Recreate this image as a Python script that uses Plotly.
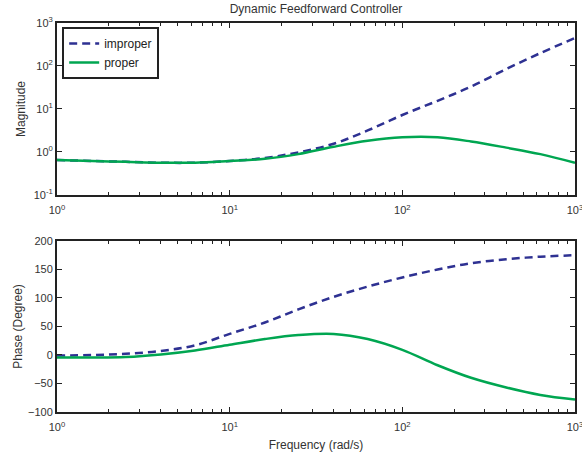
import plotly.graph_objects as go

freq = [1, 1.6, 2.5, 4, 6.3, 10, 16, 25, 40, 63, 100, 160, 250, 400, 630, 1000]
mag_improper = [0.646, 0.617, 0.589, 0.562, 0.562, 0.617, 0.724, 0.977, 1.55, 3.16, 7.24, 15.5, 33.1, 85.1, 199.5, 446.7]
mag_proper = [0.646, 0.617, 0.589, 0.562, 0.562, 0.617, 0.692, 0.891, 1.32, 1.82, 2.19, 2.19, 1.75, 1.26, 0.89, 0.56]
phase_improper = [-1, 0, 2, 7, 17, 37, 57, 80, 102, 120, 136, 150, 161, 168, 172.5, 175]
phase_proper = [-4.5, -4.5, -3.5, 1, 8, 18, 28, 35, 37, 28, 9, -18, -40, -57, -70, -78]

x_tickvals = [1, 10, 100, 1000]
x_ticktext = ["10<sup>0</sup>", "10<sup>1</sup>", "10<sup>2</sup>", "10<sup>3</sup>"]
ymag_tickvals = [0.1, 1, 10, 100, 1000]
ymag_ticktext = ["10<sup>-1</sup>", "10<sup>0</sup>", "10<sup>1</sup>", "10<sup>2</sup>", "10<sup>3</sup>"]
yph_tickvals = [-100, -50, 0, 50, 100, 150, 200]

BLUE = "#2e3192"
GREEN = "#00a651"
FONT = "Liberation Sans, Arial, sans-serif"

fig = go.Figure()
fig.add_trace(go.Scatter(x=freq, y=mag_improper, mode="lines", name="improper",
                         line=dict(color=BLUE, width=2.5, dash="8px,5px", shape="spline"),
                         xaxis="x", yaxis="y"))
fig.add_trace(go.Scatter(x=freq, y=mag_proper, mode="lines", name="proper",
                         line=dict(color=GREEN, width=2.5, shape="spline"),
                         xaxis="x", yaxis="y"))
fig.add_trace(go.Scatter(x=freq, y=phase_improper, mode="lines", showlegend=False,
                         line=dict(color=BLUE, width=2.5, dash="8px,5px", shape="spline"),
                         xaxis="x2", yaxis="y2"))
fig.add_trace(go.Scatter(x=freq, y=phase_proper, mode="lines", showlegend=False,
                         line=dict(color=GREEN, width=2.5, shape="spline"),
                         xaxis="x2", yaxis="y2"))

axis_common = dict(showline=True, linecolor="#222", linewidth=2, mirror="allticks",
                   ticks="inside", ticklen=5, tickcolor="#222", tickwidth=1,
                   showgrid=False, zeroline=False, automargin=False, ticklabeloverflow="allow",
                   tickfont=dict(family=FONT, size=11, color="#333"))
minor_log = dict(dtick="D1", ticks="inside", ticklen=3, tickcolor="#222", tickwidth=1, showgrid=False)
title_font = dict(family=FONT, size=12, color="#333")

fig.update_layout(
    width=582, height=459,
    paper_bgcolor="white", plot_bgcolor="white",
    margin=dict(l=57, r=7, t=23, b=47, autoexpand=False),
    font=dict(family=FONT, size=11, color="#333"),
    title=dict(text="Dynamic Feedforward Controller", x=(57 + 575) / 2 / 582, xanchor="center",
               y=1 - 9 / 459, yanchor="middle", font=title_font),
    xaxis=dict(type="log", range=[0, 3], domain=[0, 1], anchor="y", ticklabelstandoff=4,
               tickvals=x_tickvals, ticktext=x_ticktext, minor=minor_log, **axis_common),
    yaxis=dict(type="log", range=[-1, 3], domain=[0.558, 1], anchor="x",
               tickvals=ymag_tickvals, ticktext=ymag_ticktext,
               title=dict(text="Magnitude", standoff=6, font=title_font),
               **axis_common),
    xaxis2=dict(type="log", range=[0, 3], domain=[0, 1], anchor="y2", ticklabelstandoff=4,
                tickvals=x_tickvals, ticktext=x_ticktext, minor=minor_log,
                title=dict(text="Frequency (rad/s)", standoff=8, font=title_font),
                **axis_common),
    yaxis2=dict(range=[-100, 200], domain=[0, 0.4396], anchor="x2",
                tickvals=yph_tickvals,
                title=dict(text="Phase (Degree)", standoff=3, font=title_font),
                **axis_common),
    legend=dict(x=0.01, y=0.99, xanchor="left", yanchor="top",
                bordercolor="#222", borderwidth=2, bgcolor="white",
                font=dict(family=FONT, size=12, color="#222"), tracegroupgap=0, itemwidth=30),
)

fig.write_html("out.html", config={"displayModeBar": False},
               post_script="document.body.style.margin='0';")
